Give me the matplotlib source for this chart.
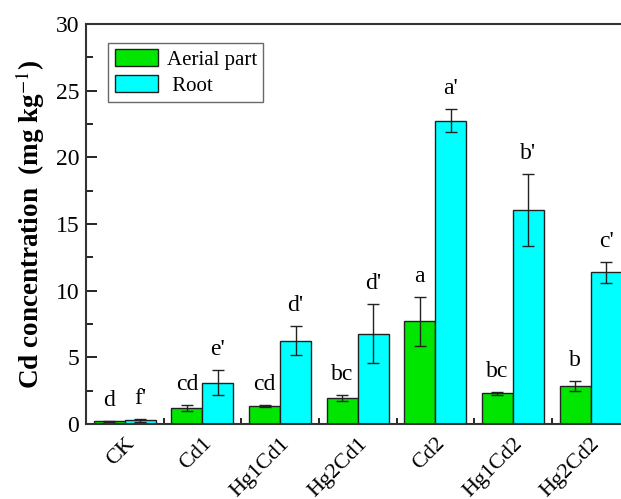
import numpy as np
from matplotlib import pyplot as plt
from matplotlib.patches import Patch

groups = ['CK', 'Cd1', 'Hg1Cd1', 'Hg2Cd1', 'Cd2', 'Hg1Cd2', 'Hg2Cd2']
aerial = [0.2, 1.22, 1.35, 1.95, 7.72, 2.3, 2.85]
aerial_err = [0.05, 0.2, 0.06, 0.2, 1.83, 0.12, 0.37]
root = [0.3, 3.1, 6.25, 6.78, 22.75, 16.05, 11.38]
root_err = [0.12, 0.95, 1.08, 2.2, 0.85, 2.7, 0.8]
aerial_letters = ['d', 'cd', 'cd', 'bc', 'a', 'bc', 'b']
root_letters = ["f'", "e'", "d'", "d'", "a'", "b'", "c'"]

plt.rcParams['font.family'] = ['Liberation Serif', 'DejaVu Serif']
plt.rcParams['mathtext.fontset'] = 'stix'

fig = plt.figure(figsize=(6.21, 4.99), dpi=100)
ax = fig.add_axes([0.1385, 0.150, 0.875, 0.802])

x = np.arange(len(groups))
w = 0.4
green = '#00e600'
cyan = '#00ffff'

ax.bar(x - w/2, aerial, w, color=green, edgecolor='#222222', linewidth=1.0,
       yerr=aerial_err, capsize=4, error_kw=dict(elinewidth=1, capthick=1, ecolor='#222222'))
ax.bar(x + w/2, root, w, color=cyan, edgecolor='#222222', linewidth=1.0,
       yerr=root_err, capsize=4, error_kw=dict(elinewidth=1, capthick=1, ecolor='#222222'))

for i in range(len(groups)):
    ax.text(x[i] - w/2, aerial[i] + aerial_err[i] + 0.75, aerial_letters[i],
            ha='center', va='bottom', fontsize=17)
    ax.text(x[i] + w/2, root[i] + root_err[i] + 0.75, root_letters[i],
            ha='center', va='bottom', fontsize=17)

ax.set_xlim(-0.5, len(groups) - 0.5)
ax.set_ylim(0, 30)
ax.set_yticks(np.arange(0, 31, 5))
ax.set_yticks(np.arange(0, 30, 2.5), minor=True)
ax.set_xticks(x)
ax.set_xticklabels(groups, rotation=45, ha='right', va='top', rotation_mode='anchor')
ax.set_xticks(np.arange(0.5, len(groups) - 0.5, 1), minor=True)
ax.tick_params(axis='x', which='major', length=0, labelsize=16, pad=7)
ax.tick_params(axis='x', which='minor', direction='in', length=4, width=1.2)
ax.tick_params(axis='y', which='major', direction='in', length=8, width=1.2,
               labelsize=17, pad=5)
ax.tick_params(axis='y', which='minor', direction='in', length=5, width=1.2)
for s in ax.spines.values():
    s.set_linewidth(1.5)
    s.set_color('#333333')

ax.set_ylabel(r'Cd concentration  (mg kg$^{-1}$)', fontsize=19.5,
              fontweight='bold', labelpad=6)

handles = [Patch(facecolor=green, edgecolor='#222222', label='Aerial part'),
           Patch(facecolor=cyan, edgecolor='#222222', label=' Root')]
leg = ax.legend(handles=handles, loc='upper left', bbox_to_anchor=(0.041, 0.952),
                fontsize=15, frameon=True, fancybox=False, edgecolor='#444444',
                handlelength=2.1, handleheight=0.85, handletextpad=0.4,
                borderpad=0.3, labelspacing=0.25, borderaxespad=0)
leg.get_frame().set_linewidth(1.0)

fig.savefig('out.png', dpi=100)
